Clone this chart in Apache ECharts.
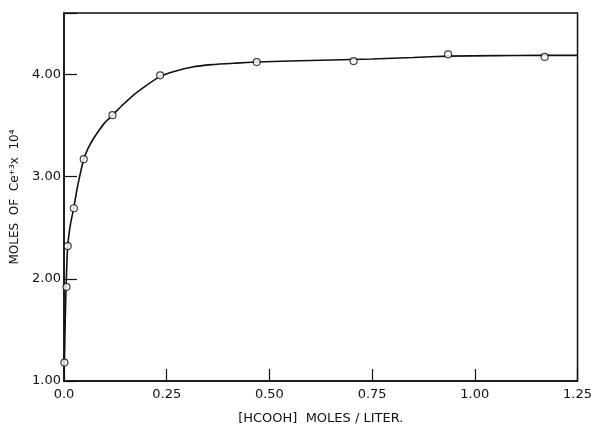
<!DOCTYPE html>
<html>
<head>
<meta charset="utf-8">
<script src="https://cdn.jsdelivr.net/npm/echarts@6/dist/echarts.min.js"></script>
<style>html,body{margin:0;padding:0;background:#fff}#c{width:595px;height:430px}</style>
</head>
<body>
<div id="c"></div>
<script>
// Measured points (open circles)
var pointX = [0.001, 0.006, 0.009, 0.024, 0.048, 0.118, 0.234, 0.469, 0.705, 0.935, 1.170];
var pointY = [1.18, 1.92, 2.32, 2.69, 3.17, 3.60, 3.99, 4.12, 4.13, 4.195, 4.17];
// Drawn curve
var curveX = [0.001, 0.003, 0.005, 0.007, 0.009, 0.012, 0.016, 0.020, 0.024, 0.030, 0.038, 0.048, 0.058, 0.070, 0.085, 0.100, 0.118, 0.14, 0.17, 0.20, 0.234, 0.27, 0.31, 0.36, 0.42, 0.469, 0.55, 0.65, 0.75, 0.85, 0.935, 1.05, 1.15, 1.25];
var curveY = [1.18, 1.60, 1.92, 2.15, 2.32, 2.43, 2.54, 2.62, 2.70, 2.84, 3.00, 3.17, 3.27, 3.36, 3.45, 3.53, 3.60, 3.69, 3.80, 3.89, 3.98, 4.03, 4.07, 4.095, 4.11, 4.12, 4.13, 4.14, 4.15, 4.165, 4.178, 4.183, 4.185, 4.185];
var yTicks = [1, 2, 3, 4];
var xTickLabels = {"0": "0.0", "0.25": "0.25", "0.5": "0.50", "0.75": "0.75", "1": "1.00", "1.25": "1.25"};
var xTitle = "[HCOOH]  MOLES / LITER.";
var yTitle = "MOLES  OF  Ce\u207A\u00B3x  10\u2074";

var pts = pointX.map(function (x, i) { return [x, pointY[i]]; });
var crv = curveX.map(function (x, i) { return [x, curveY[i]]; });
var font = "DejaVu Sans";
var chart = echarts.init(document.getElementById('c'), null, {renderer: 'canvas'});
chart.setOption({
  animation: false,
  backgroundColor: '#fff',
  grid: {left: 64, right: 9, top: 13, bottom: 42, show: true, borderColor: '#111', borderWidth: 1.5, backgroundColor: 'transparent'},
  xAxis: {
    type: 'value', min: 0, max: 1.25, interval: 0.25,
    name: xTitle, nameLocation: 'middle', nameGap: 31,
    nameTextStyle: {fontFamily: font, fontSize: 13, color: '#111'},
    axisLine: {show: true, onZero: false, lineStyle: {color: '#111', width: 1.5}},
    axisTick: {show: true, inside: true, length: 12, lineStyle: {color: '#111', width: 1.2}},
    axisLabel: {fontFamily: font, fontSize: 13, color: '#111', margin: 7,
      formatter: function (v) { var k = String(+v.toFixed(2)); return xTickLabels[k] !== undefined ? xTickLabels[k] : ''; }},
    splitLine: {show: false}
  },
  yAxis: {
    type: 'value', min: 1, max: 4.6, interval: 1,
    name: yTitle, nameLocation: 'middle', nameGap: 34, nameRotate: 90,
    nameTextStyle: {fontFamily: font, fontSize: 12, color: '#111'},
    axisLine: {show: true, onZero: false, lineStyle: {color: '#111', width: 1.5}},
    axisTick: {show: true, inside: true, length: 13, lineStyle: {color: '#111', width: 1.2}},
    axisLabel: {fontFamily: font, fontSize: 13, color: '#111', margin: 3,
      formatter: function (v) { return yTicks.indexOf(Math.round(v * 100) / 100) >= 0 ? v.toFixed(2) : ''; }},
    splitLine: {show: false}
  },
  series: [
    {type: 'line', data: crv, showSymbol: false, smooth: 0.2,
      lineStyle: {color: '#111', width: 1.6}, z: 2},
    {type: 'scatter', data: pts, symbol: 'circle', symbolSize: 7,
      itemStyle: {color: '#fff', borderColor: '#111', borderWidth: 1.2}, z: 3}
  ]
});
</script>
</body>
</html>
